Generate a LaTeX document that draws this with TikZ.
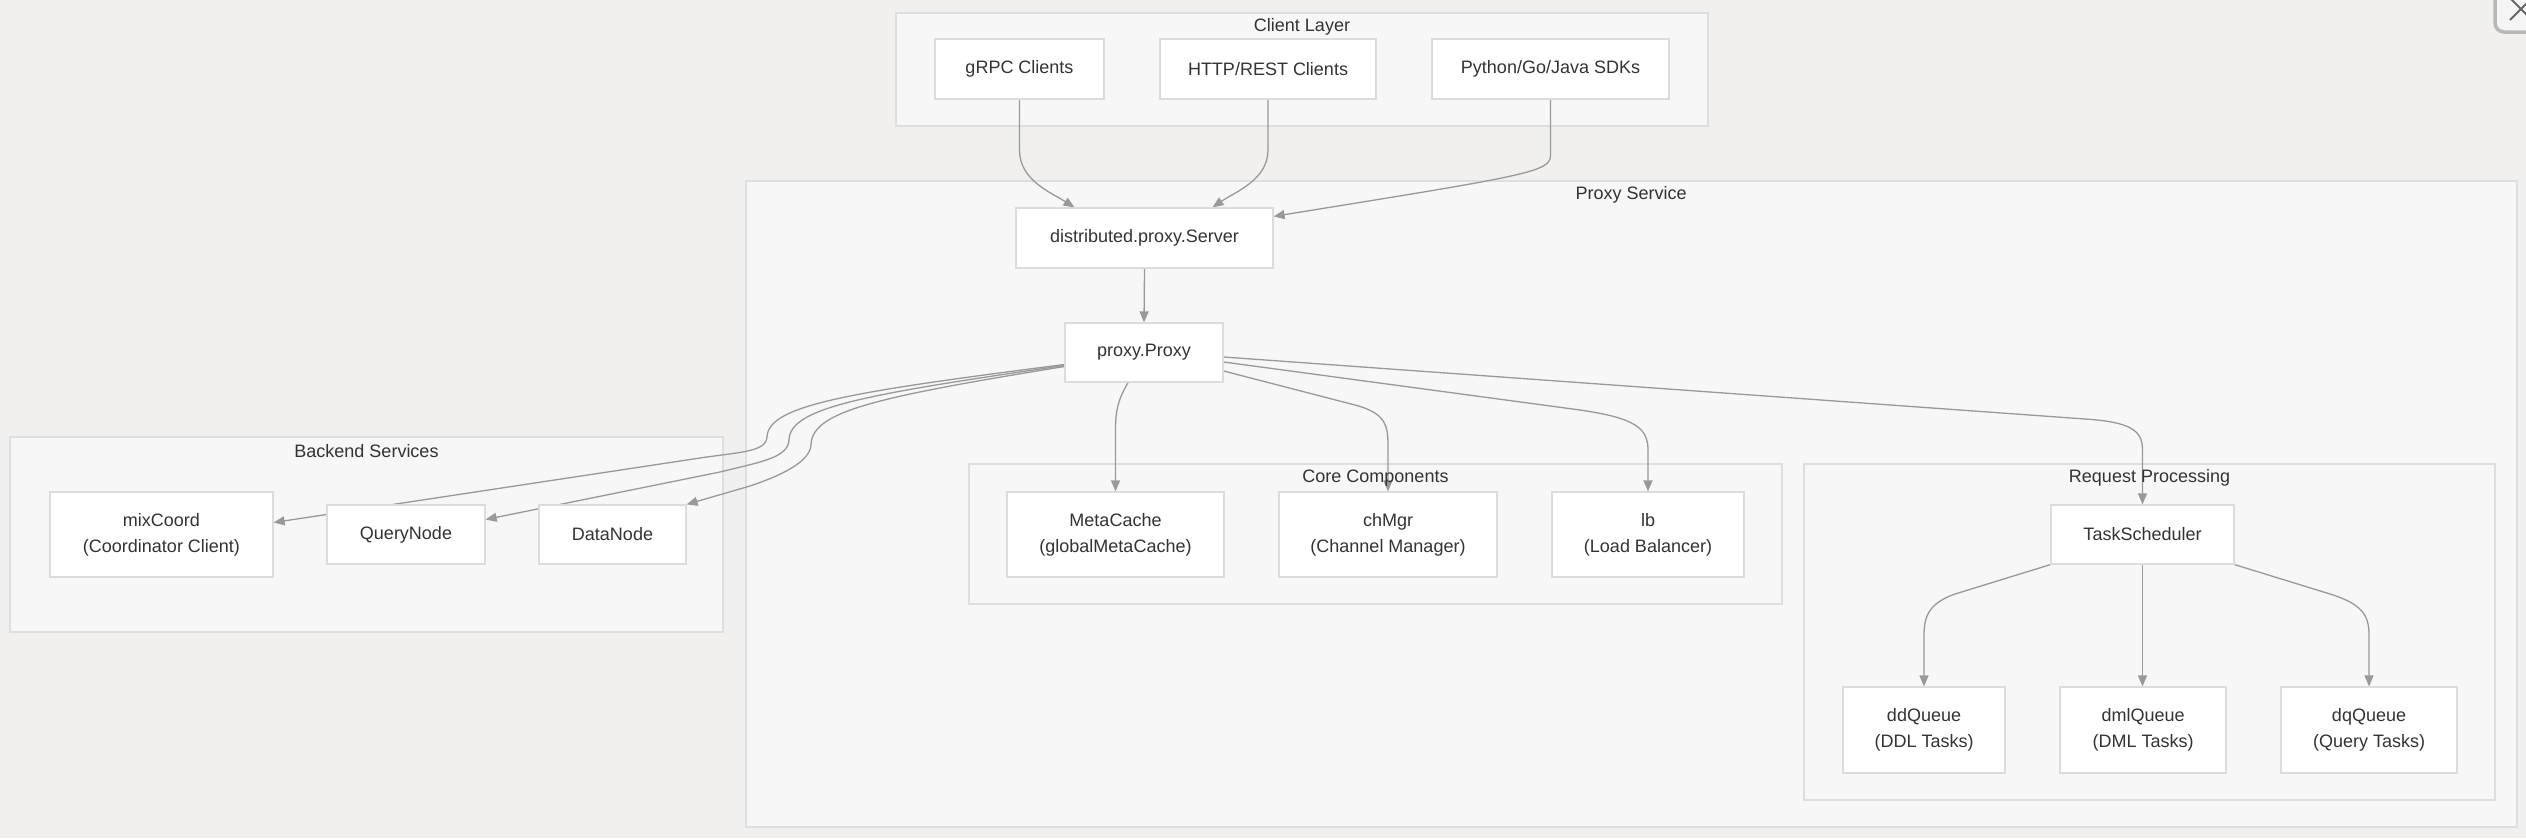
\documentclass[tikz,border=0pt]{standalone}
\usepackage{fontspec}
\setmainfont{Liberation Sans}
\usetikzlibrary{arrows.meta}
\definecolor{bgc}{HTML}{F1F0EE}
\definecolor{clfill}{HTML}{F7F7F7}
\definecolor{clline}{HTML}{DEDEDE}
\definecolor{ndline}{HTML}{DCDCDC}
\definecolor{edgec}{HTML}{999999}
\definecolor{txt}{HTML}{333333}
\definecolor{xbtn}{HTML}{B8B8B8}
\definecolor{xfill}{HTML}{F5F5F5}
\definecolor{xcol}{HTML}{666666}
\pgfdeclarelayer{bg}
\pgfdeclarelayer{edges}
\pgfsetlayers{bg,edges,main}
\begin{document}
\begin{tikzpicture}[x=1pt,y=-1pt,
  nodebox/.style={draw=ndline, fill=white, line width=1.2pt, text=txt,
    font=\fontsize{18}{26}\selectfont, align=center, inner sep=0pt},
  cluster/.style={draw=clline, fill=clfill, line width=1.2pt},
  ctitle/.style={text=txt, font=\fontsize{18}{20}\selectfont, inner sep=0pt},
  conn/.style={draw=edgec, line width=1.3pt, -{Triangle[length=11pt,width=9pt]}}]

\useasboundingbox (0,0) rectangle (2526,838);

\begin{pgfonlayer}{bg}
  \fill[bgc] (0,0) rectangle (2526,838);
  \draw[cluster] (896,13) rectangle (1708,126);
  \draw[cluster] (746,181) rectangle (2517,827);
  \draw[cluster] (969,464) rectangle (1782,604);
  \draw[cluster] (1804,464) rectangle (2495,800);
  \draw[cluster] (10,437) rectangle (723,632);
\end{pgfonlayer}

% cluster titles
\node[ctitle] (tclient) at (1302,27) {Client Layer};
\node[ctitle] (tproxy) at (1631,195) {Proxy Service};
\node[ctitle] (tcore) at (1375.5,478) {Core Components};
\node[ctitle] (treq) at (2149.5,478) {Request Processing};
\node[ctitle] (tback) at (366.5,451) {Backend Services};

% nodes
\node[nodebox, minimum width=169pt, minimum height=60pt] (grpc) at (1019.5,69) {gRPC Clients};
\node[nodebox, minimum width=216pt, minimum height=60pt] (http) at (1268,69) {HTTP/REST Clients};
\node[nodebox, minimum width=237pt, minimum height=60pt] (sdk) at (1550.5,69) {Python/Go/Java SDKs};
\node[nodebox, minimum width=257pt, minimum height=60pt] (server) at (1144.5,238) {distributed.proxy.Server};
\node[nodebox, minimum width=158pt, minimum height=59pt] (proxy) at (1144,352.5) {proxy.Proxy};
\node[nodebox, minimum width=217pt, minimum height=85pt] (meta) at (1115.5,534.5) {MetaCache\\(globalMetaCache)};
\node[nodebox, minimum width=218pt, minimum height=85pt] (chmgr) at (1388,534.5) {chMgr\\(Channel Manager)};
\node[nodebox, minimum width=192pt, minimum height=85pt] (lb) at (1648,534.5) {lb\\(Load Balancer)};
\node[nodebox, minimum width=183pt, minimum height=59pt] (ts) at (2142.5,534.5) {TaskScheduler};
\node[nodebox, minimum width=162pt, minimum height=86pt] (ddq) at (1924,730) {ddQueue\\(DDL Tasks)};
\node[nodebox, minimum width=166pt, minimum height=86pt] (dmlq) at (2143,730) {dmlQueue\\(DML Tasks)};
\node[nodebox, minimum width=176pt, minimum height=86pt] (dqq) at (2369,730) {dqQueue\\(Query Tasks)};
\node[nodebox, minimum width=223pt, minimum height=85pt] (mix) at (161.5,534.5) {mixCoord\\(Coordinator Client)};
\node[nodebox, minimum width=158pt, minimum height=59pt] (qn) at (406,534.5) {QueryNode};
\node[nodebox, minimum width=147pt, minimum height=59pt] (dn) at (612.5,534.5) {DataNode};

% connectors
\begin{pgfonlayer}{edges}
  \draw[conn] (grpc.south) -- (1019.5,150) .. controls (1019.5,180) and (1050,192) .. ([xshift=-70pt]server.north);
  \draw[conn] (http.south) -- (1268,150) .. controls (1268,180) and (1235,192) .. ([xshift=68pt]server.north);
  \draw[conn] (sdk.south) -- (1550.5,155) .. controls (1550.5,172) and (1530,175) .. ([yshift=-9pt]server.north east);
  \draw[conn] (server.south) -- (proxy.north);
  \draw[conn] ([xshift=-16pt]proxy.south) .. controls (1118,400) and (1115.5,410) .. (1115.5,430) -- (meta.north);
  \draw[conn] ([yshift=-18.5pt]proxy.east) -- (1355,405) .. controls (1385,413) and (1388,425) .. (1388,445) -- (chmgr.north);
  \draw[conn] ([yshift=-9.5pt]proxy.east) -- (1580,410) .. controls (1635,418) and (1648,428) .. (1648,450) -- (lb.north);
  \draw[conn] ([yshift=-4.5pt]proxy.east) -- (2085,419) .. controls (2130,422) and (2142.5,430) .. (2142.5,450) -- (ts.north);
  \draw[conn] (ts.south west) -- (1955,594) .. controls (1930,603) and (1924,615) .. (1924,635) -- (ddq.north);
  \draw[conn] (ts.south) -- (ts.south |- dmlq.north);
  \draw[conn] (ts.south east) -- (2330,594) .. controls (2362,604) and (2369,615) .. (2369,635) -- (dqq.north);
  \draw[conn] ([yshift=-12pt]proxy.west) .. controls (850,392) and (768,405) .. (767,437) .. controls (766,452) and (740,452) .. (700,458) -- ([yshift=12pt]mix.east);
  \draw[conn] ([yshift=-13pt]proxy.west) .. controls (860,395) and (790,408) .. (789,440) .. controls (788,458) and (760,462) .. (720,472) -- ([yshift=15pt]qn.east);
  \draw[conn] ([yshift=-14pt]proxy.west) .. controls (870,398) and (812,412) .. (811,445) .. controls (810,462) and (780,476) .. (750,486) -- (dn.north east);
\end{pgfonlayer}

% close button fragment at the top right
\draw[line width=3.5pt, draw=xbtn, fill=xfill, rounded corners=9pt] (2495,-20) rectangle (2570,32);
\draw[line width=2pt, xcol] (2510,20) -- (2532,-2) (2510,-2) -- (2532,20);
\end{tikzpicture}
\end{document}
